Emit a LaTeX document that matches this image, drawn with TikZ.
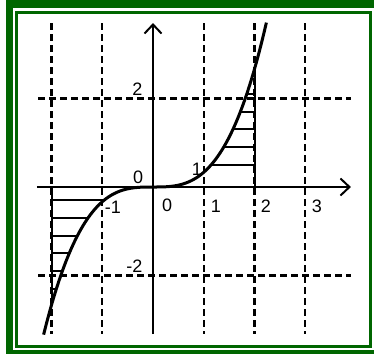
\documentclass[tikz,border=0pt]{standalone}
\usepackage{fontspec}
\setmainfont{Liberation Sans}
\usetikzlibrary{arrows.meta}
\definecolor{fgreen}{RGB}{0,102,0}
\begin{document}
\begin{tikzpicture}[x=1pt,y=-1pt,
  gridline/.style={line width=2.2pt, dash pattern=on 7pt off 4pt},
  axisline/.style={line width=2pt, -{Straight Barb[length=9pt,width=17pt]}},
  hatchline/.style={line width=2pt},
  curveline/.style={line width=3pt},
  lbl/.style={inner sep=0pt, font=\fontsize{18}{18}\selectfont}]
\useasboundingbox (0,0) rectangle (374,354);
\fill[white] (0,0) rectangle (374,354);
% frame
\fill[fgreen] (6,0) rectangle (374,8.3);
\fill[fgreen] (6,0) rectangle (13.3,354);
\fill[fgreen] (6,350) rectangle (374,354);
\draw[fgreen, line width=2.8pt] (16.3,12.2) rectangle (370.7,346.3);
% graph
\begin{scope}[shift={(153pt,-187pt)}, x=50.75pt, y=44.25pt]
  \coordinate (O) at (0,0);
  % grid
  \foreach \gx in {-2,-1,1,2,3}
    \draw[gridline] (\gx,3.705) -- (\gx,-3.322);
  \foreach \gy in {2,-2}
    \draw[gridline] (-2.26,\gy) -- (3.90,\gy);
  % hatching
  \foreach \hy in {0.5,0.9,1.3,1.7,2.1}
    \draw[hatchline] ({pow(3*\hy,1/3)},\hy) -- (2,\hy);
  \foreach \hy in {0.3,0.7,1.1,1.5,1.9,2.3}
    \draw[hatchline] (-2,-\hy) -- ({-pow(3*\hy,1/3)},-\hy);
  \draw[hatchline] (2,0) -- (2,2.667);
  \draw[hatchline] (-2,0) -- (-2,-2.667);
  % axes
  \coordinate (xs) at (-2.29,0);
  \coordinate (xe) at (3.90,0);
  \coordinate (ys) at (0,-3.322);
  \coordinate (ye) at (0,3.705);
  \draw[axisline] (xs) -- (xe);
  \draw[axisline] (ys) -- (ye);
  % curve
  \draw[curveline, domain=-2.155:2.235, samples=120, smooth]
    plot (\x, {\x*\x*\x/3});
  % labels
  \node[lbl] (ly2)  at (-0.3094,2.209) {2};
  \node[lbl] (l0a)  at (-0.2955,0.21) {0};
  \node[lbl] (l0b)  at (0.2798,-0.407) {0};
  \node[lbl] (l1c)  at (0.866,0.407) {1};
  \node[lbl] (lx1)  at (1.2414,-0.43) {1};
  \node[lbl] (lx2)  at (2.2266,-0.43) {2};
  \node[lbl] (lx3)  at (3.2315,-0.43) {3};
  \node[lbl] (lxm1) at (-0.7882,-0.46) {-1};
  \node[lbl] (lym2) at (-0.3680,-1.792) {-2};
\end{scope}
\end{tikzpicture}
\end{document}
